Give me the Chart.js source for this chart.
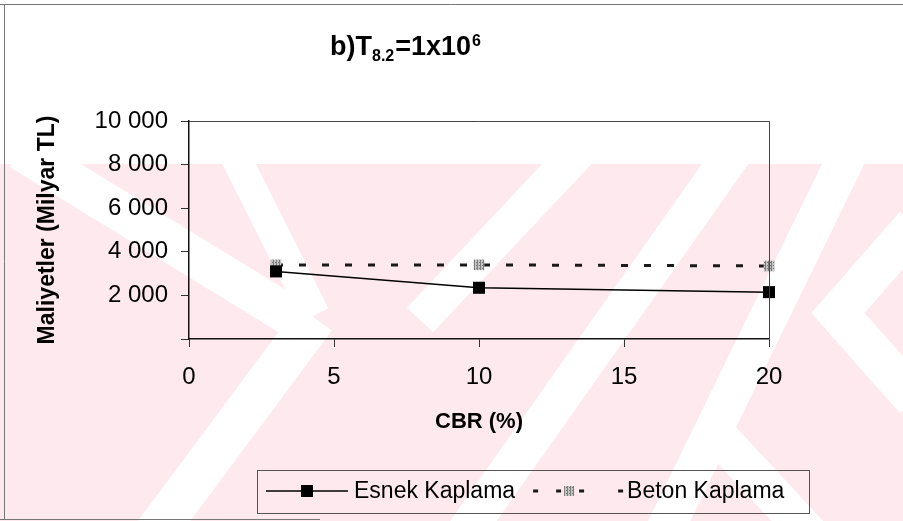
<!DOCTYPE html>
<html>
<head>
<meta charset="utf-8">
<script src="https://cdn.jsdelivr.net/npm/chart.js@4.4.0/dist/chart.umd.min.js"></script>
<style>
  html, body { margin: 0; padding: 0; background: #fff; }
</style>
</head>
<body>
<canvas id="myChart" width="903" height="521"></canvas>
<script>
// values
const cbr = [3, 10, 20];
const esnekCost = [3100, 2350, 2150];
const betonCost = [3400, 3400, 3350];
const seriesNames = ['Esnek Kaplama', 'Beton Kaplama'];
const xTicks = [0, 5, 10, 15, 20];
const yTicks = [0, 2000, 4000, 6000, 8000, 10000];

const FONT = '"Liberation Sans", Arial, sans-serif';
Chart.defaults.font.family = FONT;
Chart.defaults.color = '#000';

// gray hatched fill for the Beton markers
function hatch() {
  const c = document.createElement('canvas');
  c.width = 3; c.height = 3;
  const g = c.getContext('2d');
  g.fillStyle = '#c4c4c4';
  g.fillRect(0, 0, 3, 3);
  g.fillStyle = '#7d7d7d';
  g.fillRect(0, 0, 1, 3);
  g.fillRect(2, 1, 1, 1);
  return g.createPattern(c, 'repeat');
}
const betonFill = hatch();

function fmt(v) {
  return v === 0 ? '' : String(v).replace(/\B(?=(\d{3})+(?!\d))/g, ' ');
}

// faint pink watermark of the scan
const watermark = {
  id: 'watermark',
  beforeDraw(chart) {
    const ctx = chart.ctx;
    ctx.save();
    ctx.fillStyle = '#fff';
    ctx.fillRect(0, 0, chart.width, chart.height);
    ctx.beginPath();
    ctx.rect(0, 164, chart.width, chart.height - 164);
    ctx.clip();
    ctx.fillStyle = '#fde9ee';
    ctx.fillRect(0, 164, chart.width, chart.height - 164);
    ctx.strokeStyle = '#fff';
    ctx.lineJoin = 'miter';
    const bands = [
      [40, [[20, 150], [305, 325]]],
      [30, [[232, 150], [315, 315]]],
      [42, [[315, 318], [150, 540]]],
      [36, [[580, 150], [420, 320]]],
      [38, [[735, 150], [460, 540]]],
      [38, [[850, 150], [660, 540]]],
      [38, [[722, 440], [815, 540]]],
      [40, [[915, 225], [838, 313], [915, 400]]]
    ];
    bands.forEach(([w, pts]) => {
      ctx.lineWidth = w;
      ctx.beginPath();
      pts.forEach((p, i) => i ? ctx.lineTo(p[0], p[1]) : ctx.moveTo(p[0], p[1]));
      ctx.stroke();
    });
    ctx.restore();
  }
};

// plot frame, outer frame, title with sub/superscript, boxed legend
const decor = {
  id: 'decor',
  afterDraw(chart) {
    const ctx = chart.ctx;
    const a = chart.chartArea;
    ctx.save();

    ctx.strokeStyle = '#444';
    ctx.lineWidth = 1;
    ctx.beginPath();
    ctx.moveTo(a.left, a.top + 0.5);
    ctx.lineTo(a.right + 0.5, a.top + 0.5);
    ctx.lineTo(a.right + 0.5, a.bottom);
    ctx.stroke();

    ctx.strokeStyle = '#777';
    ctx.beginPath();
    ctx.moveTo(0, 4.5); ctx.lineTo(chart.width, 4.5);
    ctx.moveTo(4.5, 4); ctx.lineTo(4.5, 519);
    ctx.moveTo(0, 519.5); ctx.lineTo(320, 519.5);
    ctx.stroke();

    // title b)T8.2=1x10^6
    ctx.fillStyle = '#000';
    ctx.textBaseline = 'alphabetic';
    ctx.textAlign = 'left';
    let x = 330;
    const big = 'bold 27px ' + FONT, small = 'bold 16px ' + FONT;
    ctx.font = big; ctx.fillText('b)T', x, 55); x += ctx.measureText('b)T').width;
    ctx.font = small; ctx.fillText('8.2', x, 61); x += ctx.measureText('8.2').width + 1;
    ctx.font = big; ctx.fillText('=1x10', x, 55); x += ctx.measureText('=1x10').width + 1;
    ctx.font = small; ctx.fillText('6', x, 46);

    // legend
    const ds = chart.data.datasets;
    const ly = 491;
    ctx.strokeStyle = '#555';
    ctx.lineWidth = 1;
    ctx.strokeRect(257.5, 470.5, 552, 43);
    ctx.font = '23px ' + FONT;
    ctx.textBaseline = 'middle';

    let lx = 266;
    // Esnek sample
    ctx.strokeStyle = ds[0].borderColor;
    ctx.lineWidth = ds[0].borderWidth;
    ctx.beginPath(); ctx.moveTo(lx, ly); ctx.lineTo(lx + 82, ly); ctx.stroke();
    ctx.fillStyle = ds[0].pointBackgroundColor;
    ctx.fillRect(lx + 41 - 6, ly - 6, 12, 12);
    lx += 88;
    ctx.fillStyle = '#000';
    ctx.fillText(ds[0].label, lx, ly + 1);
    lx += ctx.measureText(ds[0].label).width + 18;

    // Beton sample
    ctx.strokeStyle = ds[1].borderColor;
    ctx.lineWidth = ds[1].borderWidth;
    ctx.setLineDash([5, 18, 5, 18, 5, 34]);
    ctx.beginPath(); ctx.moveTo(lx, ly); ctx.lineTo(lx + 90, ly); ctx.stroke();
    ctx.setLineDash([]);
    ctx.fillStyle = ds[1].pointBackgroundColor;
    ctx.fillRect(lx + 36 - 5, ly - 5, 10, 10);
    lx += 94;
    ctx.fillStyle = '#000';
    ctx.fillText(ds[1].label, lx, ly + 1);

    ctx.restore();
  }
};

const ctx = document.getElementById('myChart').getContext('2d');
const myChart = new Chart(ctx, {
  type: 'line',
  data: {
    datasets: [{
      label: seriesNames[0],
      data: cbr.map((c, i) => ({ x: c, y: esnekCost[i] })),
      borderColor: '#000',
      borderWidth: 1.5,
      pointStyle: 'rect',
      pointRadius: 8.5,
      pointBackgroundColor: '#000',
      pointBorderWidth: 0,
      tension: 0,
      clip: false
    }, {
      label: seriesNames[1],
      data: cbr.map((c, i) => ({ x: c, y: betonCost[i] })),
      borderColor: '#1a1a1a',
      borderWidth: 3,
      borderDash: [7, 16],
      pointStyle: 'rect',
      pointRadius: 7.5,
      pointBackgroundColor: betonFill,
      pointBorderWidth: 0,
      tension: 0,
      clip: false
    }]
  },
  options: {
    responsive: false,
    animation: false,
    layout: { padding: { top: 121, right: 134, bottom: 82, left: 0 } },
    plugins: {
      legend: { display: false },
      title: { display: false },
      tooltip: { enabled: false }
    },
    scales: {
      x: {
        type: 'linear',
        min: 0,
        max: 20,
        afterBuildTicks: s => { s.ticks = xTicks.map(v => ({ value: v })); },
        afterFit: s => { s.height = 100; },
        ticks: { padding: 16, font: { size: 24 }, color: '#000' },
        grid: { drawOnChartArea: false, drawTicks: true, tickLength: 8, color: '#333' },
        border: { color: '#111', width: 1.5 },
        title: {
          display: true,
          text: 'CBR (%)',
          font: { size: 22, weight: 'bold' },
          padding: { top: 0, bottom: 4 }
        }
      },
      y: {
        min: 0,
        max: 10000,
        afterBuildTicks: s => { s.ticks = yTicks.map(v => ({ value: v })); },
        afterFit: s => { s.width = 189; },
        ticks: { padding: 13, font: { size: 24 }, color: '#000', callback: v => fmt(v) },
        grid: { drawOnChartArea: false, drawTicks: true, tickLength: 8, color: '#333' },
        border: { color: '#111', width: 1.5 },
        title: {
          display: true,
          text: 'Maliyetler (Milyar TL)',
          font: { size: 23, weight: 'bold' },
          padding: { top: 34, bottom: 0 }
        }
      }
    }
  },
  plugins: [watermark, decor]
});
</script>
</body>
</html>
